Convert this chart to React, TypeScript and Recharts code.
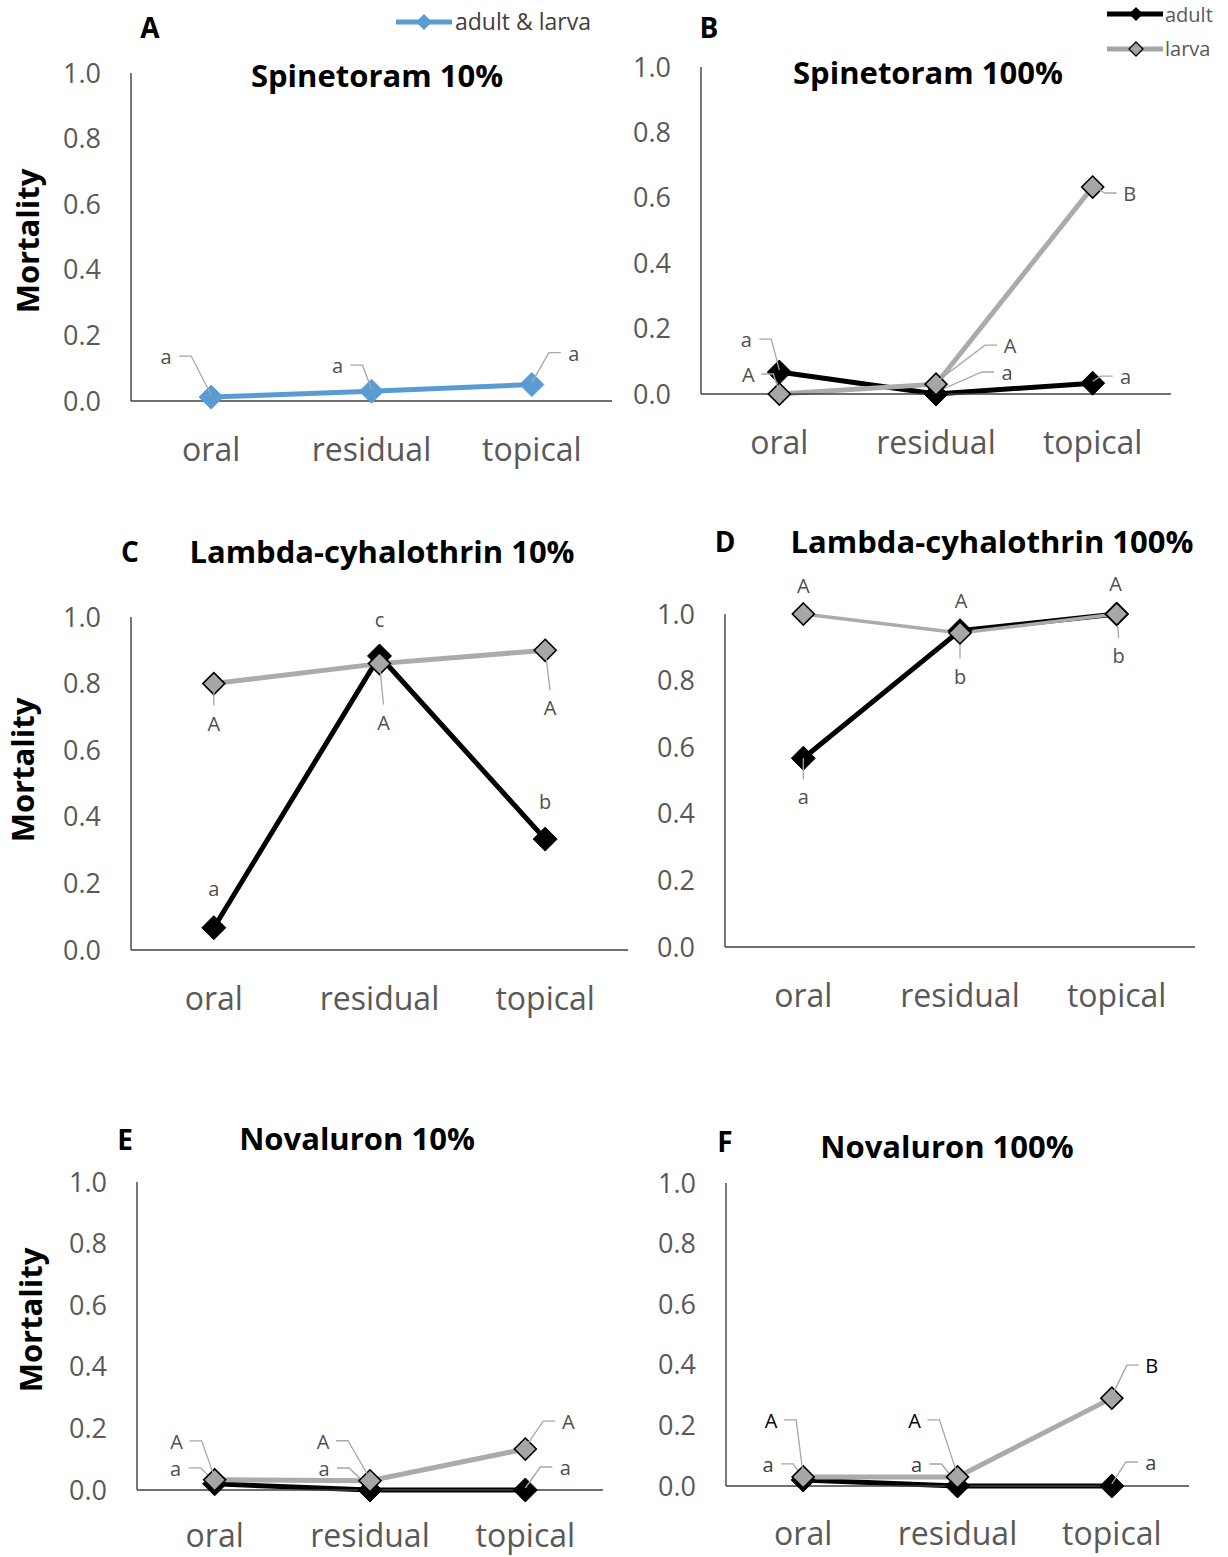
import React from 'react';
import { LineChart, Line, XAxis, YAxis } from 'recharts';

// ---------- data ----------
const categories = ['oral', 'residual', 'topical'];
const yTicks = [0, 0.2, 0.4, 0.6, 0.8, 1.0];

const spinetoram10Both = [0.012, 0.03, 0.05];
const spinetoram100Adult = [0.067, 0.0, 0.033];
const spinetoram100Larva = [0.0, 0.03, 0.633];
const lambda10Adult = [0.067, 0.883, 0.333];
const lambda10Larva = [0.8, 0.86, 0.9];
const lambda100Adult = [0.567, 0.95, 1.0];
const lambda100Larva = [1.0, 0.943, 1.0];
const novaluron10Adult = [0.02, 0.0, 0.0];
const novaluron10Larva = [0.033, 0.03, 0.133];
const novaluron100Adult = [0.02, 0.0, 0.0];
const novaluron100Larva = [0.03, 0.03, 0.29];

// significance letters
const lettersSpin10 = ['a', 'a', 'a'];
const lettersSpin100Adult = ['a', 'a', 'a'];
const lettersSpin100Larva = ['A', 'A', 'B'];
const lettersLam10Adult = ['a', 'c', 'b'];
const lettersLam10Larva = ['A', 'A', 'A'];
const lettersLam100Adult = ['a', 'b', 'b'];
const lettersLam100Larva = ['A', 'A', 'A'];
const lettersNov10Adult = ['a', 'a', 'a'];
const lettersNov10Larva = ['A', 'A', 'A'];
const lettersNov100Adult = ['a', 'a', 'a'];
const lettersNov100Larva = ['A', 'A', 'B'];

// ---------- styles / layout ----------
type Lead = 'L' | 'R' | 'D' | 'N';
type Spec = { dx: number; dy: number; lead: Lead; color?: string };
const sp = (dx: number, dy: number, lead: Lead, color?: string): Spec => ({ dx, dy, lead, color });

const GREY_TXT = '#595959';
const LABEL_TXT = '#505050';
const AXIS = '#404040';
const BLUE = '#5B9BD5';
const LARVA_LINE = '#AEAAAA';
const LARVA_FILL = '#A6A6A6';
const FONT = "'Open Sans', sans-serif";

const MT = 50, MR = 70, YW = 80, XH = 70;

function makeDot(kind: 'blue' | 'black' | 'gray', half: number, letters: string[], specs: Spec[]) {
  return (props: any) => {
    const { cx, cy, index } = props;
    if (cx == null || cy == null) return <g key={`n${index}`} />;
    const fill = kind === 'blue' ? BLUE : kind === 'black' ? '#000' : LARVA_FILL;
    const stroke = kind === 'gray' ? '#000' : fill;
    const s = specs[index];
    const t = letters[index];
    const tx = cx + s.dx;
    const ty = cy + s.dy;
    let leader: any = null;
    const ls = { fill: 'none', stroke: '#A6A6A6', strokeWidth: 1.3 };
    if (s.lead === 'L') leader = <polyline points={`${tx + 13},${ty - 2} ${tx + 25},${ty - 2} ${cx},${cy - 2}`} {...ls} />;
    if (s.lead === 'R') leader = <polyline points={`${cx},${cy - 2} ${tx - 25},${ty - 2} ${tx - 13},${ty - 2}`} {...ls} />;
    if (s.lead === 'D') leader = <polyline points={`${cx},${cy} ${tx},${ty - 19}`} {...ls} />;
    return (
      <g key={`d${index}`}>
        <polygon
          points={`${cx},${cy - half} ${cx + half},${cy} ${cx},${cy + half} ${cx - half},${cy}`}
          fill={fill}
          stroke={stroke}
          strokeWidth={kind === 'gray' ? 1.6 : 1}
        />
        {leader}
        <text x={tx} y={ty + 6} textAnchor="middle" fontSize={20} fill={s.color || LABEL_TXT} fontFamily={FONT}>
          {t}
        </text>
      </g>
    );
  };
}

type Plot = { l: number; r: number; t: number; b: number; tm?: number };
type SeriesDef = {
  key: string;
  values: number[];
  kind: 'blue' | 'black' | 'gray';
  stroke: string;
  width: number;
  half: number;
  letters: string[];
  specs: Spec[];
};

function Panel({ plot, series }: { plot: Plot; series: SeriesDef[] }) {
  const w = YW + (plot.r - plot.l) + MR;
  const h = MT + (plot.b - plot.t) + XH;
  const rows = categories.map((cat, i) => {
    const row: any = { cat };
    series.forEach((s) => (row[s.key] = s.values[i]));
    return row;
  });
  return (
    <div style={{ position: 'absolute', left: plot.l - YW, top: plot.t - MT }}>
      <LineChart width={w} height={h} data={rows} margin={{ top: MT, right: MR, bottom: 0, left: 0 }} style={{ overflow: 'visible' }}>
        <XAxis
          dataKey="cat"
          type="category"
          scale="band"
          height={XH}
          interval={0}
          axisLine={{ stroke: AXIS, strokeWidth: 1.4 }}
          tickLine={false}
          tickSize={0}
          tickMargin={plot.tm ?? 37}
          padding={{ left: 0, right: 0 }}
          tick={{ fill: GREY_TXT, fontSize: 32, fontFamily: FONT }}
        />
        <YAxis
          type="number"
          domain={[0, 1]}
          ticks={yTicks}
          interval={0}
          width={YW}
          axisLine={{ stroke: AXIS, strokeWidth: 1.4 }}
          tickLine={false}
          tickSize={0}
          tickMargin={30}
          tickFormatter={(v: number) => v.toFixed(1)}
          tick={{ fill: GREY_TXT, fontSize: 27, fontFamily: FONT }}
        />
        {series.map((s) => (
          <Line
            key={s.key}
            dataKey={s.key}
            type="linear"
            stroke={s.stroke}
            strokeWidth={s.width}
            dot={makeDot(s.kind, s.half, s.letters, s.specs)}
            activeDot={false}
            isAnimationActive={false}
          />
        ))}
      </LineChart>
    </div>
  );
}

const plots: Record<string, Plot> = {
  A: { l: 131, r: 612, t: 73, b: 401 },
  B: { l: 701, r: 1171, t: 67, b: 394 },
  C: { l: 131, r: 628, t: 617, b: 950 },
  D: { l: 725, r: 1195, t: 614, b: 947 },
  E: { l: 137, r: 603, t: 1182, b: 1490, tm: 34 },
  F: { l: 726, r: 1189, t: 1183, b: 1486, tm: 36 },
};

const adultDef = (values: number[], letters: string[], specs: Spec[]): SeriesDef => ({
  key: 'adult', values, kind: 'black', stroke: '#000', width: 5, half: 12, letters, specs,
});
const larvaDef = (values: number[], letters: string[], specs: Spec[], width = 5): SeriesDef => ({
  key: 'larva', values, kind: 'gray', stroke: LARVA_LINE, width, half: 11, letters, specs,
});

export default function App() {
  const titles = [
    { t: 'Spinetoram 10%', x: 377, y: 87 },
    { t: 'Spinetoram 100%', x: 928, y: 84 },
    { t: 'Lambda-cyhalothrin 10%', x: 382, y: 563 },
    { t: 'Lambda-cyhalothrin 100%', x: 992, y: 553 },
    { t: 'Novaluron 10%', x: 357, y: 1150 },
    { t: 'Novaluron 100%', x: 947, y: 1158 },
  ];
  const panelLetters = [
    { t: 'A', x: 150, y: 38 },
    { t: 'B', x: 709, y: 38 },
    { t: 'C', x: 130, y: 562 },
    { t: 'D', x: 725, y: 552 },
    { t: 'E', x: 125, y: 1150 },
    { t: 'F', x: 725, y: 1152 },
  ];
  const mort = [
    { x: 27, y: 241 },
    { x: 22, y: 770 },
    { x: 30, y: 1320 },
  ];
  return (
    <div style={{ position: 'absolute', left: 0, top: 0, width: 1228, height: 1557, overflow: 'hidden', background: '#fff' }}>
      <Panel
        plot={plots.A}
        series={[
          {
            key: 'both', values: spinetoram10Both, kind: 'blue', stroke: BLUE, width: 5, half: 12,
            letters: lettersSpin10, specs: [sp(-45, -39, 'L'), sp(-34, -24, 'L'), sp(42, -30, 'R')],
          },
        ]}
      />
      <Panel
        plot={plots.B}
        series={[
          adultDef(spinetoram100Adult, lettersSpin100Adult, [sp(-33, -31, 'L'), sp(71, -20, 'R'), sp(33, -5, 'R')]),
          larvaDef(spinetoram100Larva, lettersSpin100Larva, [sp(-31, -18, 'L'), sp(74, -37, 'R'), sp(37, 8, 'R')]),
        ]}
      />
      <Panel
        plot={plots.C}
        series={[
          adultDef(lambda10Adult, lettersLam10Adult, [sp(0, -38, 'N'), sp(0, -35, 'N'), sp(0, -36, 'N')]),
          larvaDef(lambda10Larva, lettersLam10Larva, [sp(0, 41, 'D'), sp(4, 60, 'D'), sp(5, 59, 'D')]),
        ]}
      />
      <Panel
        plot={plots.D}
        series={[
          adultDef(lambda100Adult, lettersLam100Adult, [sp(0, 40, 'D'), sp(0, 47, 'D'), sp(2, 43, 'D')]),
          larvaDef(lambda100Larva, lettersLam100Larva, [sp(0, -27, 'N'), sp(1, -31, 'N'), sp(-1, -29, 'N')], 3.5),
        ]}
      />
      <Panel
        plot={plots.E}
        series={[
          adultDef(novaluron10Adult, lettersNov10Adult, [sp(-39, -14, 'L'), sp(-46, -20, 'L'), sp(40, -21, 'R')]),
          larvaDef(novaluron10Larva, lettersNov10Larva, [sp(-38, -37, 'L'), sp(-47, -38, 'L'), sp(43, -26, 'R')]),
        ]}
      />
      <Panel
        plot={plots.F}
        series={[
          adultDef(novaluron100Adult, lettersNov100Adult, [sp(-35, -14, 'L', '#404040'), sp(-41, -20, 'L', '#404040'), sp(39, -22, 'R', '#404040')]),
          larvaDef(novaluron100Larva, lettersNov100Larva, [sp(-32, -55, 'L', '#000'), sp(-43, -55, 'L', '#000'), sp(40, -31, 'R', '#000')]),
        ]}
      />
      <svg width={1228} height={1557} style={{ position: 'absolute', left: 0, top: 0, pointerEvents: 'none' }}>
        {titles.map((d) => (
          <text key={d.t} x={d.x} y={d.y} textAnchor="middle" fontSize={31} fontWeight={700} fontFamily={FONT} fill="#000">
            {d.t}
          </text>
        ))}
        {panelLetters.map((d) => (
          <text key={d.t} x={d.x} y={d.y} textAnchor="middle" fontSize={28} fontWeight={700} fontFamily={FONT} fill="#000">
            {d.t}
          </text>
        ))}
        {mort.map((d, i) => (
          <text
            key={i}
            x={d.x}
            y={d.y}
            transform={`rotate(-90 ${d.x} ${d.y})`}
            textAnchor="middle"
            dominantBaseline="central"
            fontSize={31}
            fontWeight={700}
            fontFamily={FONT}
            fill="#000"
          >
            Mortality
          </text>
        ))}
        {/* legend A */}
        <line x1={396} y1={22} x2={452} y2={22} stroke={BLUE} strokeWidth={5} />
        <polygon points="424,14 432,22 424,30 416,22" fill={BLUE} />
        <text x={455} y={30} fontSize={23} fontFamily={FONT} fill="#404040">adult &amp; larva</text>
        {/* legend B */}
        <line x1={1107} y1={14} x2={1163} y2={14} stroke="#000" strokeWidth={5} />
        <polygon points="1136,7 1143,14 1136,21 1129,14" fill="#000" />
        <text x={1165} y={22} fontSize={20} fontFamily={FONT} fill={GREY_TXT}>adult</text>
        <line x1={1107} y1={49} x2={1163} y2={49} stroke={LARVA_FILL} strokeWidth={5} />
        <polygon points="1136,42 1143,49 1136,56 1129,49" fill={LARVA_FILL} stroke="#000" strokeWidth={1.3} />
        <text x={1165} y={56} fontSize={20} fontFamily={FONT} fill={GREY_TXT}>larva</text>
      </svg>
    </div>
  );
}
